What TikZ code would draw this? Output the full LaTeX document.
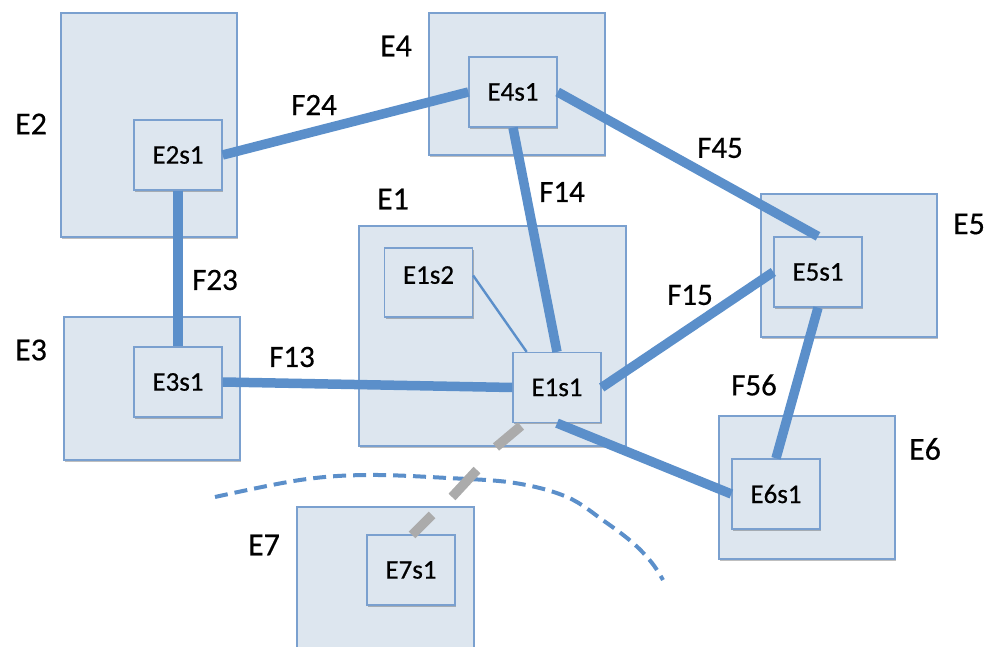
\documentclass[tikz,border=0pt]{standalone}
\usepackage{fontspec}
\setmainfont{Carlito}[FakeBold=0.5]
\usetikzlibrary{shadows,calc}
\definecolor{boxfill}{HTML}{DDE6EF}
\definecolor{boxline}{HTML}{7AA0CF}
\definecolor{linkblue}{HTML}{5B8FCA}
\definecolor{stubgray}{HTML}{ABABAB}
\tikzset{
  area/.style={draw=boxline, fill=boxfill, line width=1.3pt, inner sep=0pt,
    drop shadow={shadow xshift=1.2pt, shadow yshift=-1.8pt, opacity=0.25, fill=black}},
  sub/.style={area, minimum width=88pt, minimum height=70pt,
    font=\fontsize{27}{30}\selectfont},
  tag/.style={inner sep=0pt, font=\fontsize{32}{36}\selectfont},
  flow/.style={inner sep=0pt, font=\fontsize{31}{34}\selectfont},
  link/.style={draw=linkblue, line width=9.5pt},
  thin link/.style={draw=linkblue, line width=2.4pt},
  stub/.style={draw=stubgray, line width=9.5pt},
  coverage/.style={draw=linkblue, line width=4pt, dash pattern=on 13pt off 7pt}
}
\begin{document}
\begin{tikzpicture}[x=1pt,y=-1pt]
\useasboundingbox (0,0) rectangle (991,647);

% outer areas
\node[area, minimum width=176pt, minimum height=224pt] (E2) at (149,125) {};
\node[area, minimum width=176pt, minimum height=142pt] (E4) at (517,84) {};
\node[area, minimum width=267pt, minimum height=220pt] (E1) at (492.5,336) {};
\node[area, minimum width=176pt, minimum height=143pt] (E5) at (849,265.5) {};
\node[area, minimum width=176pt, minimum height=143pt] (E3) at (152,388.5) {};
\node[area, minimum width=176pt, minimum height=143pt] (E6) at (807,487.5) {};
\node[area, minimum width=177pt, minimum height=160pt] (E7) at (385.5,587) {};

% area labels
\node[tag] (lE2) at (31,124) {E2};
\node[tag] (lE4) at (396,46) {E4};
\node[tag] (lE1) at (393,199) {E1};
\node[tag] (lE5) at (969,224) {E5};
\node[tag] (lE3) at (31,350) {E3};
\node[tag] (lE6) at (925,449) {E6};
\node[tag] (lE7) at (264,545) {E7};

% dashed coverage boundary
\draw[coverage] plot[smooth, tension=0.6] coordinates
  {(215,497) (300,480) (367,475) (448,478) (515,483) (567,497) (604,521) (633,543) (652,563) (663,580)};

% sub-areas
\node[sub] (E2s1) at (178,155) {E2s1};
\node[sub] (E4s1) at (513,92) {E4s1};
\node[sub] (E1s1) at (557,387.5) {E1s1};
\node[sub] (E5s1) at (818,272) {E5s1};
\node[sub] (E3s1) at (178,382) {E3s1};
\node[sub] (E6s1) at (776,494) {E6s1};
\node[sub, minimum height=69pt] (E1s2) at (428.5,282.5) {\raisebox{15pt}{E1s2}};
\node[sub] (E7s1) at (411,570) {E7s1};

% links between sub-areas
\draw[link] (E2s1.east) -- (E4s1.west);
\draw[link] (E2s1.south) -- (E3s1.north);
\draw[link] (E4s1.east) -- (E5s1.north);
\draw[link] (E4s1.south) -- (E1s1.north);
\draw[link] (E3s1.east) -- (E1s1.west);
\draw[link] (E1s1.east) -- (E5s1.west);
\draw[link] (E5s1.south) -- (E6s1.north);
\draw[link] (E1s1.south) -- (E6s1.west);
\draw[thin link] ($(E1s2.north east)!0.4!(E1s2.south east)$) -- ($(E1s1.north west)!0.16!(E1s1.north east)$);

% broken link towards E7
\coordinate (s1a) at (521,426);
\coordinate (s1b) at (496,447);
\coordinate (s2a) at (477,470);
\coordinate (s2b) at (452,497);
\coordinate (s3a) at (432,515);
\coordinate (s3b) at (412,535);
\draw[stub] (s1a) -- (s1b);
\draw[stub] (s2a) -- (s2b);
\draw[stub] (s3a) -- (s3b);

% flow labels
\node[flow] (F24) at (314,105) {F24};
\node[flow] (F23) at (215,280) {F23};
\node[flow] (F45) at (720,148) {F45};
\node[flow] (F14) at (562,192) {F14};
\node[flow] (F13) at (292,357) {F13};
\node[flow] (F15) at (690,295) {F15};
\node[flow] (F56) at (754,385) {F56};
\end{tikzpicture}
\end{document}
